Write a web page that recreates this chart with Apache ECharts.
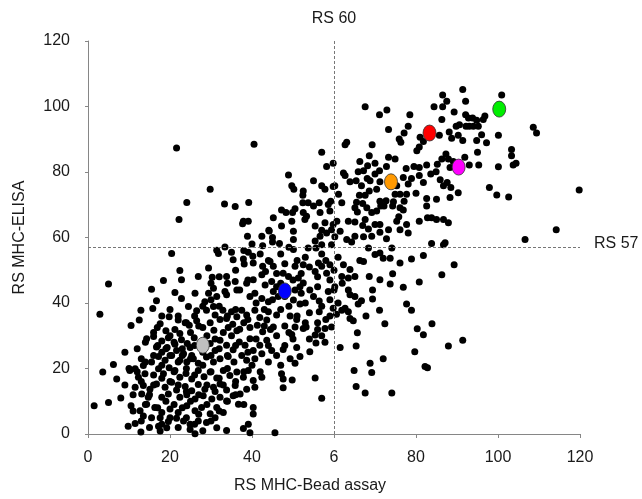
<!DOCTYPE html>
<html><head><meta charset="utf-8">
<script src="https://cdn.jsdelivr.net/npm/echarts@6/dist/echarts.min.js"></script>
<style>html,body{margin:0;padding:0;background:#fff}#c{width:642px;height:499px}</style>
</head><body><div id="c"></div>
<script>
const xTickLabels = ['0','20','40','6','80','100','120'];
const yTickLabels = ['0','20','40','60','80','100','120'];
const xAxisName = 'RS MHC-Bead assay';
const yAxisName = 'RS MHC-ELISA';
const cutoffX = 60, cutoffY = 57;
const cutoffXLabel = 'RS 60', cutoffYLabel = 'RS 57';

// upper-left sparse points
const pointsUpperLeft = [[21.6,87.3],[40.5,88.5],[29.8,74.7],[24.1,70.7],[33.3,70.2],[35.9,69.5],[39.2,70.7],[22.2,65.5],[45.2,66],[37.9,65],[39.1,65],[37.7,64.2],[44.1,62.2],[38.9,60.4],[42.4,60.4],[45.0,60]];

// lower-left dense cluster
const pointsLowerLeft = [[44.2,62.0],[45.0,58.6],[46.7,58.2],[42.6,57.5],[33.4,57.1],[31.4,56.1],[31.8,55.1],[35.0,55.5],[35.4,53.2],[39.1,55.5],[40.2,54.3],[37.9,53.4],[38.1,51.9],[40.3,52.2],[42.6,51.2],[44.4,52.7],[43.3,49.6],[45.2,51.2],[20.4,55.1],[22.4,49.9],[22.8,47.1],[29.4,50.7],[30.3,47.9],[26.9,48.1],[18.4,46.9],[5.0,45.8],[15.5,44.2],[33.8,48.1],[35.9,46.6],[36.3,44.0],[33.4,43.5],[33.8,42.5],[30.6,44.5],[29.4,43.0],[31.4,42.0],[26.1,43.0],[21.2,43.2],[22.8,41.4],[40.3,47.1],[38.7,46.0],[42.4,48.6],[44.8,46.6],[46.0,45.0],[43.2,45.5],[45.2,43.5],[40.7,43.0],[39.5,42.0],[42.4,41.4],[44.0,40.4],[46.4,42.0],[16.7,40.7],[15.8,38.3],[12.9,37.8],[2.9,36.6],[24.5,38.9],[26.5,37.6],[28.5,40.4],[28.9,37.8],[30.6,38.9],[31.0,36.3],[32.9,37.8],[33.8,35.3],[35.0,37.3],[36.3,35.8],[37.5,37.8],[38.7,36.3],[40.7,37.8],[41.9,35.6],[44.0,37.3],[46.0,36.3],[43.6,34.8],[45.2,32.7],[10.5,33.1],[12.5,34.8],[17.6,33.7],[19.8,35.8],[22.0,34.8],[23.7,34.0],[16.9,32.5],[19.0,31.5],[21.2,31.9],[22.4,30.7],[24.7,33.2],[26.5,34.6],[28.0,32.5],[29.8,34.0],[30.7,31.7],[32.2,35.0],[34.2,32.5],[35.3,33.5],[36.3,31.5],[38.0,34.0],[39.5,32.5],[41.3,33.2],[42.6,31.2],[44.5,31.9],[14.3,29.1],[16.0,29.8],[18.0,28.4],[19.6,29.4],[21.2,27.4],[22.8,28.8],[24.2,27.6],[25.9,29.4],[9.0,25.0],[16.7,26.6],[18.0,25.0],[19.3,26.4],[21.6,25.5],[23.3,24.5],[24.9,26.4],[25.3,24.0],[29.8,27.6],[31.0,25.5],[32.2,28.6],[33.8,27.1],[35.4,25.7],[36.9,28.1],[38.3,27.1],[39.5,29.1],[40.3,25.5],[41.9,27.1],[43.6,28.6],[44.8,25.5],[17.2,23.7],[18.8,22.5],[20.4,24.0],[22.4,22.5],[24.1,22.0],[25.7,23.0],[26.9,21.6],[28.9,23.5],[30.6,22.0],[32.2,23.0],[34.2,23.7],[35.6,22.0],[37.5,24.0],[38.7,22.5],[40.7,23.0],[42.4,24.5],[44.0,22.0],[6.2,21.2],[11.5,19.9],[13.5,20.9],[15.5,22.0],[3.6,18.9],[7.0,16.8],[10.2,19.4],[12.3,17.3],[13.9,18.4],[17.2,19.9],[18.4,18.4],[19.8,20.2],[21.2,19.4],[22.4,17.3],[23.9,18.5],[25.3,16.8],[26.9,19.4],[28.3,17.5],[29.8,18.9],[31.4,17.1],[33.0,19.4],[34.6,17.9],[36.3,18.9],[37.9,17.3],[39.1,19.4],[40.3,16.3],[42.4,17.3],[11.5,14.3],[13.5,14.8],[15.1,13.7],[16.7,15.3],[18.8,14.3],[20.4,15.8],[21.6,13.4],[23.7,14.5],[25.3,13.2],[26.9,15.1],[28.5,13.7],[30.6,14.3],[32.2,15.3],[33.8,13.4],[35.9,14.8],[37.1,12.2],[38.7,13.7],[40.7,14.3],[13.1,12.2],[14.7,11.2],[18.0,11.2],[19.6,12.2],[22.4,11.2],[24.1,12.0],[26.1,10.7],[28.1,11.7],[30.2,10.7],[32.2,11.2],[33.8,10.1],[35.4,11.7],[1.5,8.6],[5.0,9.6],[10.5,8.6],[12.7,7.1],[14.3,9.1],[16.3,8.1],[18.0,6.6],[20.0,7.6],[22.0,6.6],[24.1,8.6],[26.1,7.1],[27.7,8.1],[29.8,6.2],[31.4,8.1],[33.0,6.6],[36.7,9.1],[40.3,8.1],[40.3,6.1],[13.5,5.5],[15.5,5.0],[17.6,5.0],[19.6,3.8],[21.6,4.8],[23.3,4.0],[24.9,3.0],[26.9,4.0],[28.9,3.5],[31.0,5.0],[9.8,2.4],[11.5,3.2],[12.9,0.6],[17.2,2.4],[17.6,0.9],[19.2,1.9],[24.9,1.4],[26.1,0.1],[31.4,1.9],[33.8,1.1],[37.9,1.7],[39.1,3.0],[39.5,0.4],[45.6,0.4]];

// extra points inside the densest part of the lower cluster
const pointsCore = [[20,30],[21,28],[23,26],[25,31],[27,33],[29,30],[31,29],[33,31],[19,26],[17,27],[22,22],[24,20],[26,18],[28,21],[30,19],[32,17],[34,20],[18,17],[20,16],[16,18],[22,15],[24,13],[27,12],[29,15],[31,13],[33,15],[19,10],[21,9],[23,8],[25,10],[27,6],[29,9],[15,12],[14,9],[17,8],[16,15],[13,16],[11,12],[12,19],[14,22],[16,24],[18,21],[20,24],[21,19],[23,24],[25,23],[26,27],[28,25],[30,24],[32,26],[34,24],[36,27],[35,30],[37,32],[39,35],[36,38],[34,36],[32,39],[30,41],[28,39],[26,36],[24,34],[22,36],[20,38],[18,36],[16,31],[14,28],[12,26],[13,23],[10,20],[9,15],[8,11],[11,7],[13,4],[15,2],[18,3],[20,5],[22,2],[24,5],[26,3],[28,1],[30,4],[32,7],[34,10],[36,12],[38,9],[36,16],[38,19],[40,21],[42,19],[39,25],[41,29],[43,33],[44,27],[37,44],[39,47],[41,40],[43,38],[45,41],[47,45],[46,49],[44,53],[42,55],[40,58],[38,56],[36,50],[34,46],[32,48],[30,46]];

// middle band
const pointsMiddle = [[56.6,60.4],[60.2,60.2],[50.1,59.4],[55.4,58.9],[63.1,59.4],[64.3,58.6],[57.0,57.8],[59.4,57.8],[53.7,56.8],[55.6,56.8],[50.1,56.3],[69.2,60.4],[68.4,56.8],[71.2,55.3],[70.0,54.8],[74.1,56.8],[72.0,53.7],[73.7,53.7],[76.1,52.2],[78.9,53.4],[81.8,54.5],[83.8,58.2],[86.7,57.8],[87.1,58.4],[89.3,51.7],[86.3,48.6],[50.5,51.2],[52.5,51.7],[56.2,52.2],[57.0,51.2],[59.0,51.7],[55.4,49.6],[58.2,49.1],[62.3,51.7],[63.9,50.2],[61.9,48.1],[63.5,47.6],[65.1,48.1],[66.3,53.0],[67.2,52.7],[68.6,48.1],[71.2,47.1],[74.3,48.9],[73.7,45.8],[76.9,44.8],[80.8,46.4],[47.6,49.1],[48.9,48.1],[51.3,47.6],[52.5,46.1],[54.1,44.0],[51.7,45.0],[50.5,44.0],[50.1,40.9],[51.7,39.7],[58.6,43.5],[60.2,45.0],[63.5,44.0],[63.9,42.5],[65.1,42.0],[69.4,44.0],[69.4,41.2],[65.9,39.7],[66.7,40.7],[56.4,40.6],[59.8,38.4],[61.9,37.8],[62.7,38.4],[63.5,37.3],[56.4,37.3],[59.0,36.0],[60.6,36.6],[63.9,35.3],[64.7,34.6],[67.8,36.0],[71.1,37.8],[77.7,39.7],[78.9,37.8],[49.3,36.0],[50.9,35.0],[50.5,32.7],[52.5,32.2],[53.2,32.7],[56.0,31.9],[57.8,32.2],[59.4,32.7],[65.7,30.9],[72.4,33.7],[80.3,32.1],[81.8,30.3],[83.9,33.7],[49.7,30.4],[55.4,30.2],[55.6,27.8],[57.8,28.0],[47.6,25.8],[50.9,26.4],[51.7,23.7],[49.3,23.0],[50.5,21.6],[54.1,25.1],[61.5,26.4],[65.4,26.9],[87.9,26.9],[91.4,28.6],[79.7,25.1],[72.0,23.0],[68.8,21.6],[69.2,18.8],[64.9,19.4],[82.2,20.6],[82.8,20.2],[47.2,18.4],[47.6,16.8],[47.6,14.1],[49.8,16.5],[55.4,17.1],[65.4,14.5],[67.6,12.5],[74.1,12.5],[57.0,10.9],
[47,55],[48,52],[49,57],[51,53],[52,49],[53,54],[54,51],[56,48],[57,55],[58,53],[59,47],[60,50],[61,54],[62,46],[47,46],[48,42],[49,39],[50,47],[52,43],[53,40],[54,37],[55,42],[56,45],[57,39],[58,35],[59,41],[60,44],[61,40],[47,38],[48,33],[50,29],[51,36],[53,34],[54,29],[56,34],[57,30],[46,30],[46,24],[47,21],[48,27],[49,31]];

// upper-right cluster
const pointsUpperRight = [[91.4,105.2],[86.5,103.5],[87.5,101.6],[92.1,101.6],[84.4,99.9],[86.5,99.9],[89.3,98.3],[92.1,97.5],[92.8,96.5],[93.8,96.5],[94.8,95.8],[95.2,94.0],[86.3,96.0],[89.8,94.0],[90.6,94.4],[92.2,94.0],[93.0,94.0],[94.0,94.0],[88.1,92.2],[90.3,91.2],[88.7,90.3],[91.4,89.6],[94.8,89.6],[81.0,90.6],[85.7,91.2],[78.5,97.5],[78.1,94.0],[77.1,91.9],[75.9,90.1],[76.3,89.1],[67.6,99.9],[71.1,97.5],[72.9,98.9],[73.3,93.0],[63.1,89.1],[62.7,88.3],[69.3,88.3],[57.0,86.0],[68.6,85.0],[66.3,83.2],[68.2,81.9],[70.0,82.7],[73.3,84.5],[74.9,84.0],[72.8,81.7],[58.2,81.7],[59.8,82.7],[48.9,79.1],[49.7,75.8],[50.2,74.7],[52.5,74.2],[52.4,72.9],[55.0,77.3],[57.0,75.8],[59.8,75.6],[62.3,79.7],[62.7,78.9],[63.9,77.0],[65.4,77.3],[65.9,80.1],[67.2,80.4],[68.1,78.0],[68.8,77.3],[70.0,79.4],[71.1,80.4],[71.2,77.0],[66.7,75.8],[68.6,74.2],[70.4,74.7],[77.6,81.1],[79.5,81.7],[80.8,81.4],[80.2,86.5],[80.8,87.6],[81.8,89.3],[82.6,82.1],[85.2,82.4],[86.3,84.0],[87.3,85.5],[87.9,84.0],[89.1,83.2],[88.3,81.4],[84.9,80.1],[83.6,79.4],[85.9,77.6],[86.7,75.8],[87.6,76.8],[88.5,75.3],[90.3,73.7],[91.9,84.5],[93.0,82.1],[95.0,86.0],[95.3,82.1],[78.1,76.3],[78.9,78.0],[80.8,78.9],[81.8,76.8],[76.9,78.3],[75.3,75.8],[76.1,73.2],[77.7,73.2],[74.9,73.2],[74.5,70.9],[71.2,71.1],[71.4,69.6],[74.3,69.6],[76.1,69.1],[77.1,71.1],[82.6,71.9],[85.0,71.7],[82.6,69.6],[88.3,72.2],[80.0,73.5],[66.2,72.9],[67.6,72.9],[65.5,70.8],[67.0,70.4],[65.1,69.1],[65.7,67.8],[68.0,69.1],[69.2,67.6],[67.6,65.5],[70.4,68.1],[72.7,71.2],[72.2,69.6],[76.9,68.4],[75.8,66.3],[82.8,66.0],[83.8,66.0],[85.0,65.5],[86.7,65.5],[87.9,64.5],[80.8,65.0],[77.7,64.0],[75.3,65.0],[73.3,62.4],[71.2,64.0],[70.0,64.0],[68.4,62.6],[67.0,63.7],[63.5,65.0],[65.1,64.7],[71.2,61.6],[72.8,59.6],[76.1,62.4],[78.1,61.4],[65.1,60.4],[67.2,60.2],[57.8,74.7],[60.2,75.8],[61.1,73.2],[61.9,70.6],[58.6,70.1],[59.2,71.1],[59.0,68.1],[56.6,67.6],[53.7,70.6],[52.4,70.6],[50.5,68.8],[49.9,67.6],[52.5,67.6],[55.4,63.5],[57.8,64.5],[60.7,65.0],[59.8,64.0],[57.0,62.2],[58.2,61.4],[59.4,62.4],[61.5,61.9],[47.2,68.4],[48.3,67.6],[50.1,61.9],[47.2,63.5],[49.7,65.0],[52.9,65.5],[55.0,69.6],[56.4,70.6],[53.3,66.5]];

// far right points
const pointsFarRight = [[100.9,103.5],[96.4,96.0],[96.8,97.1],[96.0,91.4],[97.2,88.9],[100.1,91.2],[100.1,81.6],[103.3,86.9],[103.3,85.0],[103.7,82.1],[104.4,82.7],[108.6,93.7],[109.4,91.9],[97.9,75.3],[99.7,73.0],[102.6,72.4],[119.8,74.5],[114.2,62.4],[106.6,59.4]];

// highlighted samples
const highlightPoints = [[28.0,27.1],[48.0,43.7],[73.9,77.0],[83.3,91.9],[90.4,81.5],[100.3,99.2]];
const highlightColors = ['#c0c0c0','#0000ff','#ff9900','#ff0000','#ff00ff','#00ee00'];

const blackPoints = [].concat(pointsUpperLeft, pointsLowerLeft, pointsCore, pointsMiddle, pointsUpperRight, pointsFarRight);

const font = 'Liberation Sans, Arial, sans-serif';
const textColor = '#1a1a1a';
const axisColor = '#868686';
const fs = 16;

const chart = echarts.init(document.getElementById('c'), null, {renderer:'canvas'});
chart.setOption({
  animation: false,
  backgroundColor: '#fff',
  grid: {left: 88, right: 62, top: 41, bottom: 65},
  xAxis: {
    type: 'value', min: 0, max: 120, interval: 20,
    axisLine: {show: true, onZero: false, lineStyle: {color: axisColor, width: 1}},
    axisTick: {show: true, length: 4, lineStyle: {color: axisColor}},
    splitLine: {show: false},
    axisLabel: {margin: 16, color: textColor, fontSize: fs, fontFamily: font,
      formatter: v => xTickLabels[Math.round(v / 20)]},
    name: xAxisName, nameLocation: 'middle', nameGap: 44,
    nameTextStyle: {color: textColor, fontSize: fs, fontFamily: font, padding: [0, 48, 0, 0]}
  },
  yAxis: {
    type: 'value', min: 0, max: 120, interval: 20,
    axisLine: {show: true, onZero: false, lineStyle: {color: axisColor, width: 1}},
    axisTick: {show: true, length: 3, lineStyle: {color: axisColor}},
    splitLine: {show: false},
    axisLabel: {margin: 18, color: textColor, fontSize: fs, fontFamily: font, padding: [0, 0, 6, 0],
      formatter: v => yTickLabels[Math.round(v / 20)]},
    name: yAxisName, nameLocation: 'middle', nameGap: 60,
    nameTextStyle: {color: textColor, fontSize: fs, fontFamily: font}
  },
  series: [
    {
      type: 'scatter', data: blackPoints, symbol: 'circle', symbolSize: 7,
      itemStyle: {color: '#000', opacity: 1}, z: 2,
      markLine: {
        silent: true, symbol: 'none', animation: false,
        lineStyle: {type: [3, 2], color: '#777', width: 1},
        data: [
          {xAxis: cutoffX, label: {show: true, formatter: cutoffXLabel, position: 'end', distance: 14, color: textColor, fontSize: fs, fontFamily: font}},
          {yAxis: cutoffY, label: {show: true, formatter: cutoffYLabel, position: 'end', distance: 14, offset: [0, -4], color: textColor, fontSize: fs, fontFamily: font}}
        ]
      }
    },
    {
      type: 'scatter', z: 3, symbol: 'circle', symbolSize: [13, 16],
      data: highlightPoints.map((p, i) => ({value: p, itemStyle: {color: highlightColors[i]}})),
      itemStyle: {borderColor: '#333', borderWidth: 0.8, opacity: 1}
    }
  ]
});
</script>
</body></html>
